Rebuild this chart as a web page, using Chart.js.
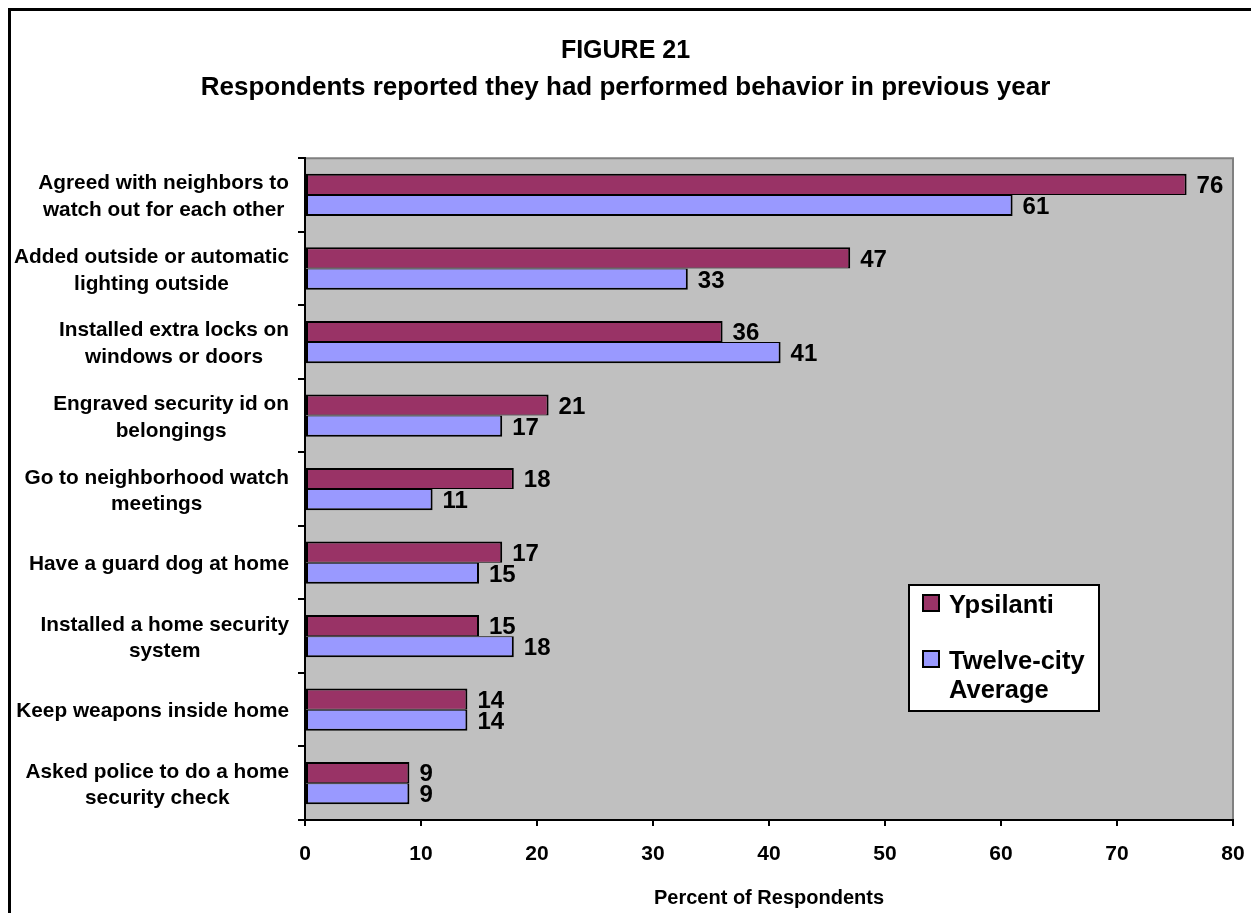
<!DOCTYPE html>
<html>
<head>
<meta charset="utf-8">
<script src="https://cdn.jsdelivr.net/npm/chart.js@4/dist/chart.umd.min.js"></script>
<style>
  html, body { margin: 0; padding: 0; background: #fff; }
  #wrap { position: relative; width: 1251px; height: 913px; overflow: hidden; }
</style>
</head>
<body>
<div id="wrap"><canvas id="chart" width="1251" height="913"></canvas></div>
<script>
// Behaviours, top to bottom
const categories = [
  ['Agreed with neighbors to', 'watch out for each other'],
  ['Added outside or automatic', 'lighting outside'],
  ['Installed extra locks on', 'windows or doors'],
  ['Engraved security id on', 'belongings'],
  ['Go to neighborhood watch', 'meetings'],
  ['Have a guard dog at home'],
  ['Installed a home security', 'system'],
  ['Keep weapons inside home'],
  ['Asked police to do a home', 'security check']
];
// Percent of respondents
const ypsilanti  = [76, 47, 36, 21, 18, 17, 15, 14, 9];
const twelveCity = [61, 33, 41, 17, 11, 15, 18, 14, 9];
const seriesNames = ['Ypsilanti', 'Twelve-city Average'];
const legendLines = [['Ypsilanti'], ['Twelve-city', 'Average']];
const xMin = 0, xMax = 80, xStep = 10;

const FAMILY = '"Liberation Sans", Arial, Helvetica, sans-serif';
const COLORS = ['#993366', '#9999FF'];

// Gray plot background with its thin top/right frame, plus the outer page frame
const plotFrame = {
  id: 'plotFrame',
  beforeDraw(chart) {
    const { ctx, chartArea: a } = chart;
    ctx.save();
    ctx.fillStyle = '#C0C0C0';
    ctx.fillRect(a.left, a.top, a.right - a.left, a.bottom - a.top);
    ctx.strokeStyle = '#808080';
    ctx.lineWidth = 2;
    ctx.beginPath();
    ctx.moveTo(a.left, a.top);
    ctx.lineTo(a.right, a.top);
    ctx.lineTo(a.right, a.bottom);
    ctx.stroke();
    ctx.restore();
  },
  afterDraw(chart) {
    const ctx = chart.ctx;
    ctx.save();
    ctx.fillStyle = '#000';
    ctx.fillRect(8, 8, 3, chart.height);
    ctx.fillRect(8, 8, chart.width, 3);
    ctx.restore();
  }
};

// Category names: each block sits against the axis, its lines centred on each other
const categoryLabels = {
  id: 'categoryLabels',
  afterDraw(chart) {
    const { ctx } = chart;
    const y = chart.scales.y;
    ctx.save();
    ctx.font = 'bold 20.8px ' + FAMILY;
    ctx.fillStyle = '#000';
    ctx.textAlign = 'center';
    ctx.textBaseline = 'middle';
    const right = y.right - 16;
    const lh = 26.6;
    y.getLabels().forEach((lbl, i) => {
      const lines = Array.isArray(lbl) ? lbl : [lbl];
      const w = Math.max(...lines.map(t => ctx.measureText(t).width));
      const cx = right - w / 2;
      const cy = y.getPixelForValue(i) + 2;
      lines.forEach((t, k) => ctx.fillText(t, cx, cy + (k - (lines.length - 1) / 2) * lh));
    });
    ctx.restore();
  }
};

// Value printed just past the end of each bar
const valueLabels = {
  id: 'valueLabels',
  afterDatasetsDraw(chart) {
    const { ctx } = chart;
    ctx.save();
    ctx.font = 'bold 24px ' + FAMILY;
    ctx.fillStyle = '#000';
    ctx.textAlign = 'left';
    ctx.textBaseline = 'middle';
    chart.data.datasets.forEach((ds, di) => {
      chart.getDatasetMeta(di).data.forEach((bar, i) => {
        ctx.fillText(String(ds.data[i]), bar.x + 10, bar.y + 2);
      });
    });
    ctx.restore();
  }
};

// Boxed legend inside the plot, lower right
const boxLegend = {
  id: 'boxLegend',
  afterDatasetsDraw(chart) {
    const { ctx, chartArea: a } = chart;
    const bx = a.right - 324, by = a.bottom - 235, bw = 190, bh = 126;
    ctx.save();
    ctx.fillStyle = '#fff';
    ctx.fillRect(bx, by, bw, bh);
    ctx.strokeStyle = '#000';
    ctx.lineWidth = 2;
    ctx.strokeRect(bx, by, bw, bh);
    ctx.font = 'bold 25.5px ' + FAMILY;
    ctx.textAlign = 'left';
    ctx.textBaseline = 'alphabetic';
    const rows = [by + 10, by + 66];
    chart.data.datasets.forEach((ds, di) => {
      const top = rows[di];
      ctx.fillStyle = ds.backgroundColor;
      ctx.fillRect(bx + 14, top, 16, 16);
      ctx.strokeRect(bx + 14, top, 16, 16);
      ctx.fillStyle = '#000';
      legendLines[di].forEach((t, k) => ctx.fillText(t, bx + 40, top + 18 + k * 29));
    });
    ctx.restore();
  }
};

new Chart(document.getElementById('chart'), {
  type: 'bar',
  data: {
    labels: categories,
    datasets: [
      {
        label: seriesNames[0],
        data: ypsilanti,
        backgroundColor: COLORS[0],
        borderColor: '#000',
        borderWidth: { top: 2, right: 2, bottom: 1, left: 2 },
        borderSkipped: false,
        categoryPercentage: 0.575,
        barPercentage: 1
      },
      {
        label: seriesNames[1],
        data: twelveCity,
        backgroundColor: COLORS[1],
        borderColor: '#000',
        borderWidth: { top: 1, right: 2, bottom: 2, left: 2 },
        borderSkipped: false,
        categoryPercentage: 0.575,
        barPercentage: 1
      }
    ]
  },
  options: {
    indexAxis: 'y',
    responsive: false,
    animation: false,
    devicePixelRatio: 1,
    layout: { padding: { left: 18, right: 18, top: 0, bottom: 0 } },
    plugins: {
      legend: { display: false },
      tooltip: { enabled: false },
      title: {
        display: true,
        text: 'FIGURE 21',
        color: '#000',
        font: { family: FAMILY, size: 25, weight: 'bold' },
        padding: { top: 36, bottom: 0 }
      },
      subtitle: {
        display: true,
        text: 'Respondents reported they had performed behavior in previous year',
        color: '#000',
        font: { family: FAMILY, size: 26, weight: 'bold' },
        padding: { top: 6, bottom: 55 }
      }
    },
    scales: {
      x: {
        min: xMin,
        max: xMax,
        ticks: {
          stepSize: xStep,
          color: '#000',
          font: { family: FAMILY, size: 21, weight: 'bold' },
          padding: 16
        },
        grid: { drawOnChartArea: false, drawTicks: true, tickLength: 6, color: '#000', lineWidth: 2 },
        border: { display: true, color: '#000', width: 2 },
        title: {
          display: true,
          text: 'Percent of Respondents',
          color: '#000',
          font: { family: FAMILY, size: 20, weight: 'bold' },
          padding: { top: 0, bottom: 3 }
        },
        afterFit(scale) {
          scale.height = 93;
          scale.paddingLeft = 0;
          scale.paddingRight = 0;
        }
      },
      y: {
        ticks: { display: false },
        grid: { offset: true, drawOnChartArea: false, drawTicks: true, tickLength: 7, color: '#000', lineWidth: 2 },
        border: { display: true, color: '#000', width: 2 },
        afterFit(scale) { scale.width = 287; }
      }
    }
  },
  plugins: [plotFrame, categoryLabels, valueLabels, boxLegend]
});
</script>
</body>
</html>
